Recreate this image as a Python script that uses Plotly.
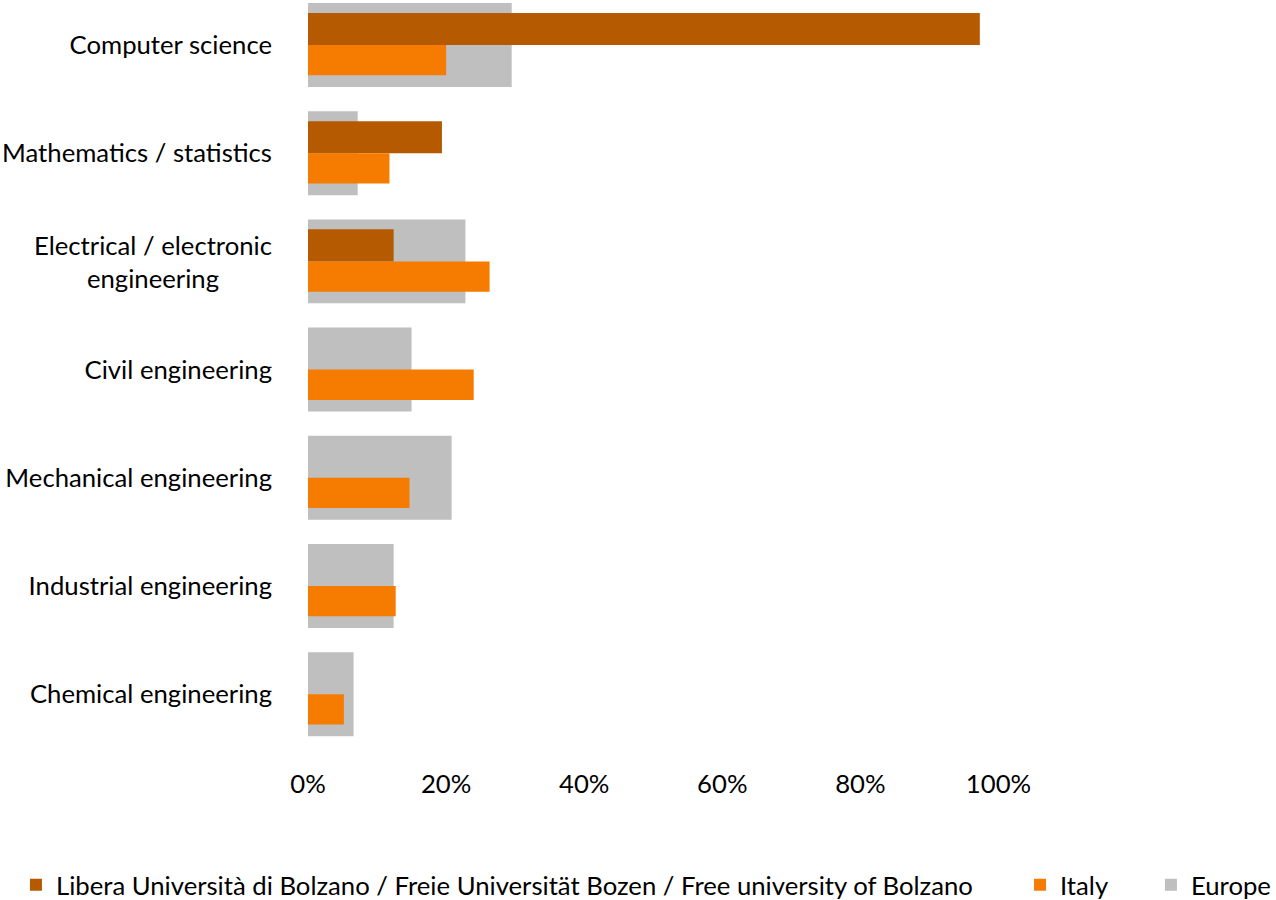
import plotly.graph_objects as go

# categories from top to bottom
categories = [
    "Computer science",
    "Mathematics / statistics",
    "Electrical / electronic engineering",
    "Civil engineering",
    "Mechanical engineering",
    "Industrial engineering",
    "Chemical engineering",
]

# shares (fraction of 1)
bolzano = [0.973, 0.194, 0.124, 0, 0, 0, 0]
italy = [0.200, 0.118, 0.263, 0.240, 0.147, 0.127, 0.052]
europe = [0.295, 0.072, 0.228, 0.150, 0.208, 0.124, 0.066]

x_ticks = [0, 0.2, 0.4, 0.6, 0.8, 1.0]
x_tick_labels = ["0%", "20%", "40%", "60%", "80%", "100%"]

pos = list(range(len(categories)))

FONT = "Lato"
FSIZE = 25.7
DARK = "#B55A00"
ORANGE = "#F57C00"
GREY = "#BFBFBF"

fig = go.Figure()

# Europe drawn first, wide and behind the other two
fig.add_trace(go.Bar(
    y=pos, x=europe, orientation="h", name="Europe",
    marker=dict(color=GREY, line=dict(width=0)),
    width=0.776, offset=-0.388, legend="legend3",
))
fig.add_trace(go.Bar(
    y=pos, x=bolzano, orientation="h",
    name="Libera Università di Bolzano / Freie Universität Bozen / Free university of Bolzano",
    marker=dict(color=DARK, line=dict(width=0)),
    width=0.296, offset=-0.296, legend="legend",
))
fig.add_trace(go.Bar(
    y=pos, x=italy, orientation="h", name="Italy",
    marker=dict(color=ORANGE, line=dict(width=0)),
    width=0.28, offset=0, legend="legend2",
))

# the two-line label is centred, so it goes in as an annotation
tick_text = [c if i != 2 else "" for i, c in enumerate(categories)]
fig.add_annotation(
    text="Electrical / electronic<br>engineering",
    xref="paper", x=0, xanchor="right", xshift=-34,
    yref="y", y=2, yanchor="middle",
    align="center", showarrow=False,
    font=dict(family=FONT, size=FSIZE, color="#000000"),
)

# one legend per series so the row does not wrap
leg = dict(orientation="h", xref="container", yref="container",
           xanchor="left", y=0.0167, yanchor="middle",
           font=dict(family=FONT, size=FSIZE))

fig.update_layout(
    width=1276, height=900,
    margin=dict(l=308, r=243, t=0, b=134),
    barmode="overlay",
    plot_bgcolor="white", paper_bgcolor="white",
    font=dict(family=FONT, size=FSIZE, color="#000000"),
    showlegend=True,
    legend=dict(leg, x=0.0125),
    legend2=dict(leg, x=0.7994),
    legend3=dict(leg, x=0.902),
    xaxis=dict(
        range=[0, 1.05], tickvals=x_ticks, ticktext=x_tick_labels,
        showgrid=False, zeroline=False, showline=False, automargin=False,
    ),
    yaxis=dict(
        range=[6.664, -0.416], tickvals=pos, ticktext=tick_text,
        showgrid=False, zeroline=False, showline=False, automargin=False,
        ticklabelstandoff=35,
    ),
)

# drop the default page margin so the figure sits at the window corner
fig.write_html("out.html", config={"displayModeBar": False},
               post_script="document.body.style.margin='0';")
